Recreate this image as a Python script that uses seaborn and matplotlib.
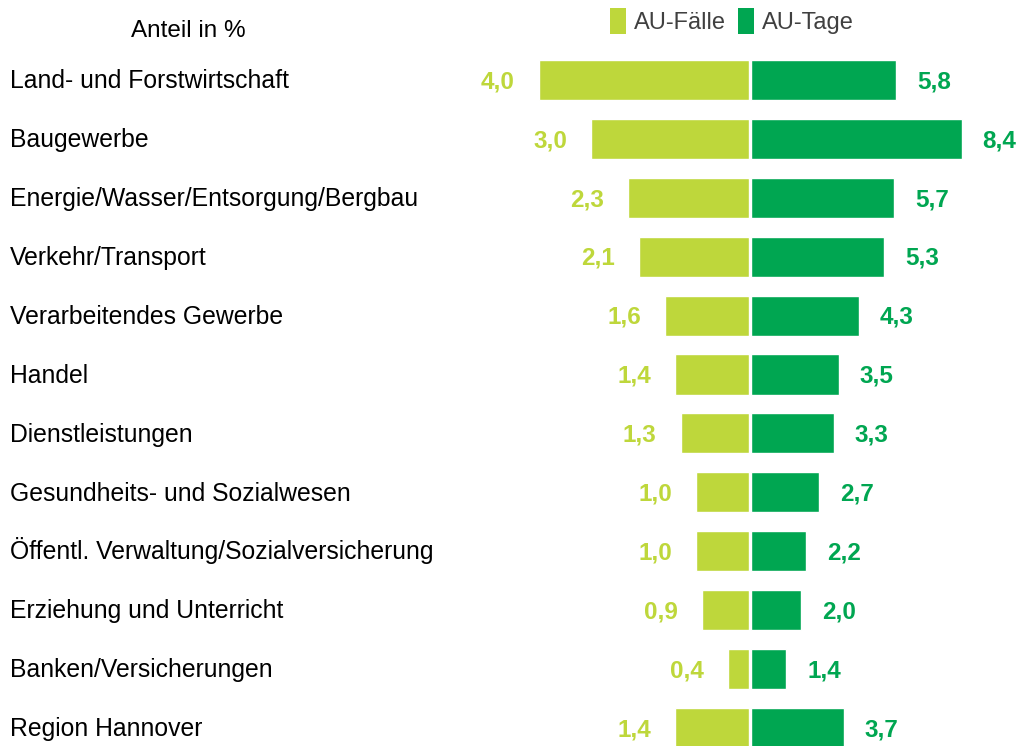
import matplotlib
matplotlib.use("Agg")
import matplotlib.pyplot as plt
import matplotlib.transforms as mtrans
from matplotlib.patches import Patch
import seaborn as sns
import pandas as pd

categories = [
    "Land- und Forstwirtschaft",
    "Baugewerbe",
    "Energie/Wasser/Entsorgung/Bergbau",
    "Verkehr/Transport",
    "Verarbeitendes Gewerbe",
    "Handel",
    "Dienstleistungen",
    "Gesundheits- und Sozialwesen",
    "Öffentl. Verwaltung/Sozialversicherung",
    "Erziehung und Unterricht",
    "Banken/Versicherungen",
    "Region Hannover",
]
au_faelle = [4.0, 3.0, 2.3, 2.1, 1.6, 1.4, 1.3, 1.0, 1.0, 0.9, 0.4, 1.4]
au_tage = [5.8, 8.4, 5.7, 5.3, 4.3, 3.5, 3.3, 2.7, 2.2, 2.0, 1.4, 3.7]
series_names = ["AU-Fälle", "AU-Tage"]

LIGHT = "#BED73B"
DARK = "#00A651"

sns.set_theme(style="white")
plt.rcParams["font.family"] = ["Liberation Sans", "DejaVu Sans"]

W, H = 1023, 746
fig = plt.figure(figsize=(W / 100, H / 100), dpi=100)

df = pd.DataFrame({"cat": categories, "f": au_faelle, "t": au_tage})

axL = fig.add_axes([470 / W, 0, (749 - 470) / W, 1])
axR = fig.add_axes([751 / W, 0, (1023 - 751) / W, 1])

sns.barplot(data=df, y="cat", x="f", orient="h", color=LIGHT, width=0.68,
            ax=axL, saturation=1)
sns.barplot(data=df, y="cat", x="t", orient="h", color=DARK, width=0.68,
            ax=axR, saturation=1)

ylim = (11.307, -1.358)
axL.set_xlim(5.31, 0)
axR.set_xlim(0, 10.85)
for ax in (axL, axR):
    ax.set_ylim(*ylim)
    ax.set_axis_off()


def fmt(v):
    return f"{v:.1f}".replace(".", ",")


base_off = 0.14  # baseline below row centre (data units)
for i, (f, t) in enumerate(zip(au_faelle, au_tage)):
    axL.text(f + 0.46, i + base_off, fmt(f), ha="right", va="baseline",
             color=LIGHT, fontsize=17.5, fontweight="bold")
    axR.text(t + 0.84, i + base_off, fmt(t), ha="left", va="baseline",
             color=DARK, fontsize=17.5, fontweight="bold")

tr = mtrans.blended_transform_factory(fig.transFigure, axL.transData)
for i, c in enumerate(categories):
    fig.text(10 / W, i + base_off, c, transform=tr, ha="left", va="baseline",
             fontsize=17.8, color="black")

fig.text(188 / W, 1 - 37 / H, "Anteil in %", ha="center", va="baseline",
         fontsize=17.5, color="black")

handles = [Patch(facecolor=LIGHT, edgecolor="none"),
           Patch(facecolor=DARK, edgecolor="none")]
fig.legend(handles, series_names, loc="center", bbox_to_anchor=(732 / W, 1 - 21 / H),
           ncol=2, frameon=False, fontsize=17, labelcolor="#404040",
           handlelength=0.68, handleheight=1.35, handletextpad=0.35,
           columnspacing=0.5, borderpad=0)

fig.savefig("out.png", dpi=100)
